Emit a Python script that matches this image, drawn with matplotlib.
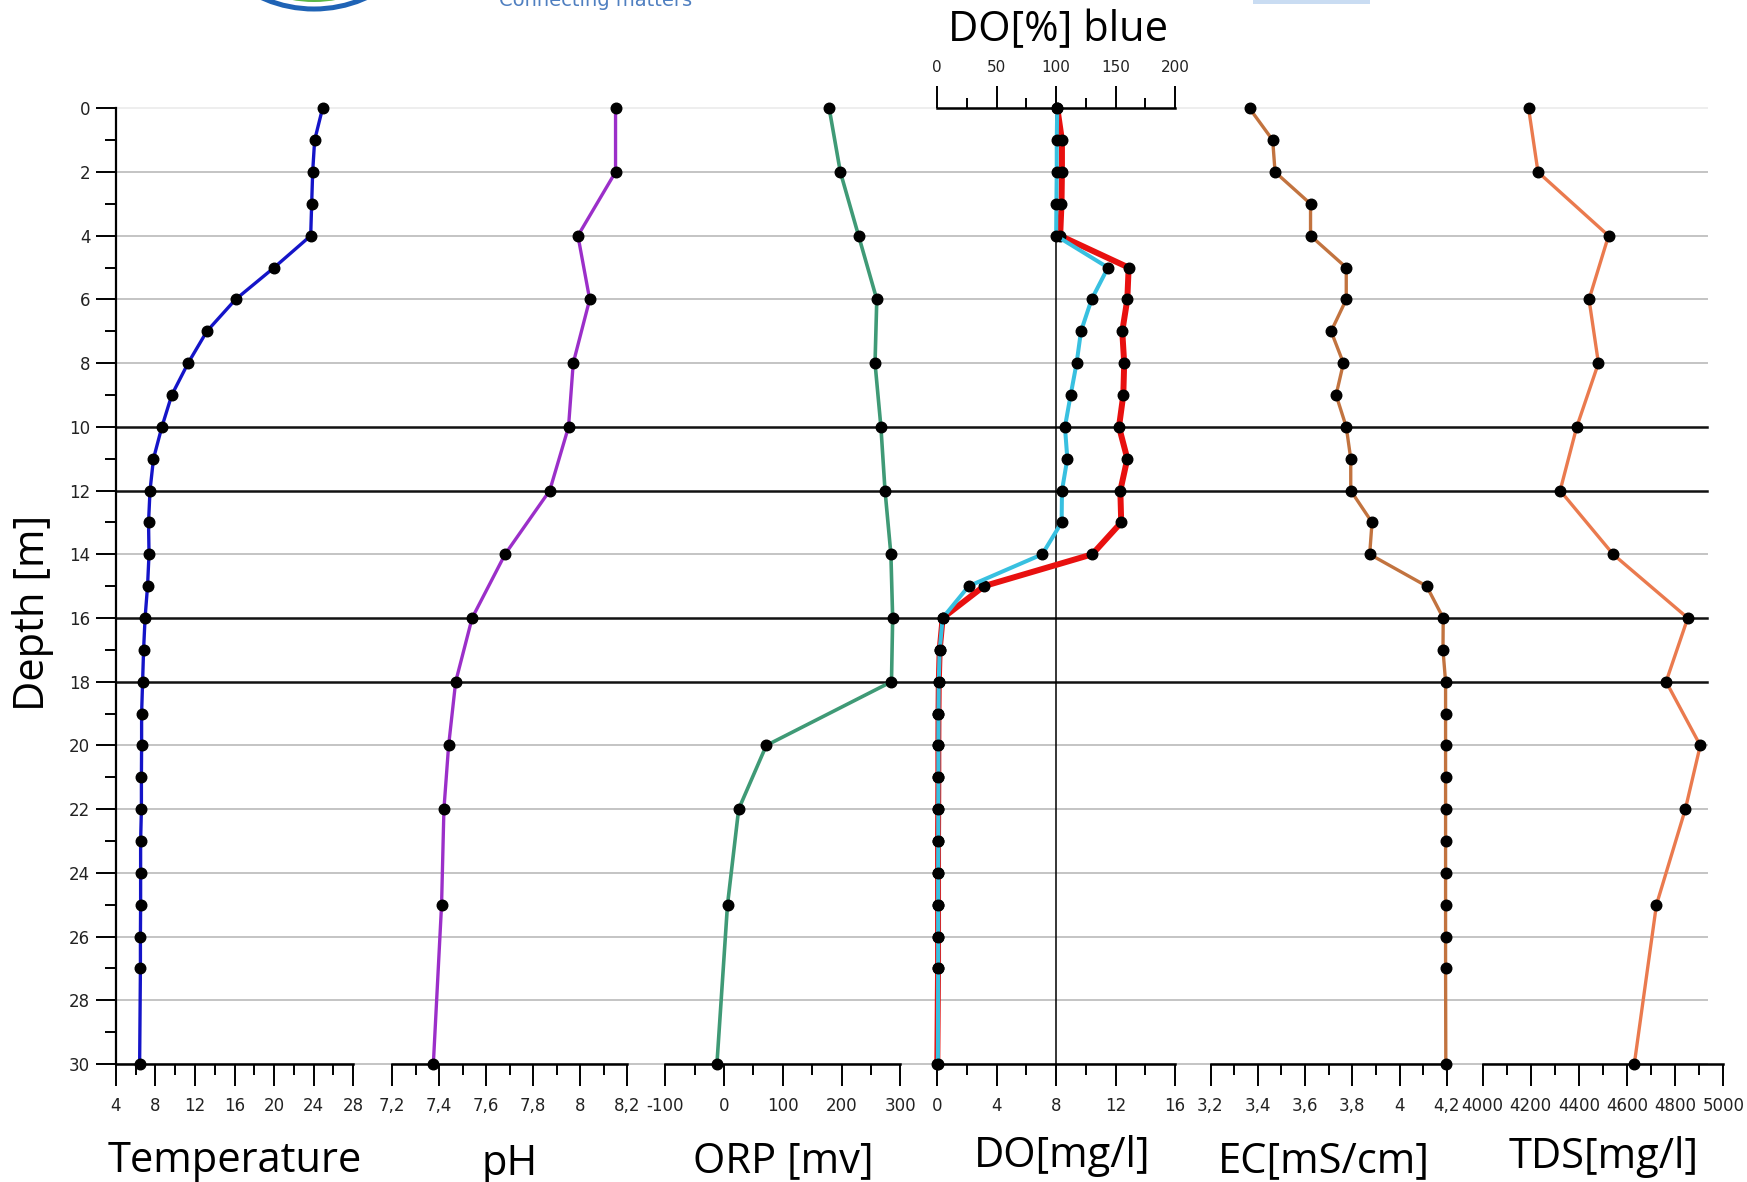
"""Lake profile: temperature, pH, ORP, DO, EC and TDS against depth."""

import matplotlib
matplotlib.use('Agg')
import matplotlib.pyplot as plt
from matplotlib.ticker import MultipleLocator, FuncFormatter
from matplotlib.patches import Ellipse, Rectangle


# Data

depth_full = list(range(28)) + [30]
depth_sparse = [0, 2, 4, 6, 8, 10, 12, 14, 16, 18, 20, 22, 25, 30]

temperature = [24.9, 24.1, 23.9, 23.8, 23.7, 20.0, 16.1, 13.2, 11.3, 9.65,
               8.65, 7.8, 7.45, 7.3, 7.35, 7.2, 6.95, 6.8, 6.7, 6.6,
               6.6, 6.58, 6.58, 6.5, 6.5, 6.5, 6.48, 6.48, 6.4]
ph = [8.15, 8.15, 7.99, 8.04, 7.97, 7.95, 7.87, 7.68, 7.54, 7.47, 7.44, 7.42, 7.41, 7.375]
orp = [179, 198, 229, 260, 257, 267, 274, 284, 287, 285, 72, 25, 6, -12]
do_mg = [8.08, 8.39, 8.39, 8.36, 8.27, 12.88, 12.79, 12.45, 12.58, 12.52,
         12.23, 12.79, 12.32, 12.38, 10.43, 3.14, 0.36, 0.16, 0.1, 0.08,
         0.07, 0.07, 0.06, 0.05, 0.05, 0.05, 0.05, 0.05, 0.0]
do_pct = [100.9, 100.5, 100.5, 100.2, 100.0, 143.6, 129.8, 120.9, 117.2, 112.2,
          107.4, 109.4, 104.9, 104.6, 88.3, 26.4, 4.5, 2.0, 1.2, 1.0,
          0.9, 0.9, 0.8, 0.8, 0.7, 0.7, 0.7, 0.7, 0.5]
ec = [3.365, 3.463, 3.473, 3.623, 3.623, 3.774, 3.774, 3.710, 3.762, 3.731,
      3.774, 3.793, 3.793, 3.883, 3.873, 4.114, 4.184, 4.183, 4.194, 4.194,
      4.194, 4.194, 4.194, 4.194, 4.194, 4.194, 4.194, 4.194, 4.195]
tds = [4191, 4230, 4523, 4442, 4481, 4391, 4322, 4542, 4852, 4762, 4904, 4842, 4722, 4630]

depth_ticks = list(range(0, 31, 2))
black_lines = [10, 12, 16, 18]

# Figure set-up (positions in pixels of the 1747x1182 picture)

W, H = 1747, 1182
Y0, Y1 = 108.3, 1064.0
TICK_FONT = ['Liberation Sans Narrow', 'DejaVu Sans']
LABEL_FONT = ['Open Sans', 'DejaVu Sans']

fig = plt.figure(figsize=(W / 100, H / 100), dpi=100)


def rect(x0, x1):
    return [x0 / W, 1 - Y1 / H, (x1 - x0) / W, (Y1 - Y0) / H]


def comma(v, pos=None):
    return '{0:g}'.format(round(v, 3)).replace('.', ',')


def style_ticks(axis):
    for lab in axis.get_ticklabels():
        lab.set_fontfamily(TICK_FONT)


# Background: depth axis and grid lines

ax = fig.add_axes(rect(116, 1707))
ax.set_xlim(0, 1)
ax.set_ylim(30, 0)
for s in ['top', 'right', 'bottom']:
    ax.spines[s].set_visible(False)
ax.spines['left'].set_linewidth(1.6)
ax.set_xticks([])
ax.yaxis.set_major_locator(MultipleLocator(2))
ax.yaxis.set_minor_locator(MultipleLocator(1))
ax.tick_params(axis='y', which='major', length=14.5, width=1.4, pad=4,
               labelsize=12, labelcolor='#222222')
ax.tick_params(axis='y', which='minor', length=8, width=1.4)
style_ticks(ax.yaxis)
for d in depth_ticks:
    if d in black_lines:
        color, lw = '#111111', 1.8
    elif d == 0:
        color, lw = '#eeeeee', 1.4
    else:
        color, lw = '#c4c4c4', 1.4
    ax.axhline(d, color=color, lw=lw, zorder=1, clip_on=False)


def profile_axes(x0, x1, lim, major, minor):
    a = fig.add_axes(rect(x0, x1))
    a.patch.set_visible(False)
    a.set_xlim(*lim)
    a.set_ylim(30, 0)
    for s in ['top', 'right', 'left']:
        a.spines[s].set_visible(False)
    a.spines['bottom'].set_linewidth(1.8)
    a.set_yticks([])
    a.xaxis.set_major_locator(MultipleLocator(major))
    a.xaxis.set_minor_locator(MultipleLocator(minor))
    a.xaxis.set_major_formatter(FuncFormatter(comma))
    a.tick_params(axis='x', which='major', length=16, width=1.4, pad=8,
                  labelsize=12, labelcolor='#222222')
    a.tick_params(axis='x', which='minor', length=8, width=1.4)
    style_ticks(a.xaxis)
    return a


def profile(a, x, y, color, lw):
    a.plot(x, y, color=color, lw=lw, marker='o', ms=7.6, mfc='black', mec='black',
           clip_on=False, zorder=3)


ax_t = profile_axes(115.9, 353.2, (4, 28), 4, 2)
profile(ax_t, temperature, depth_full, '#1414c8', 2.4)

ax_ph = profile_axes(392.2, 627.3, (7.2, 8.2), 0.2, 0.1)
profile(ax_ph, ph, depth_sparse, '#9b2fc9', 2.4)

ax_orp = profile_axes(665.2, 900.3, (-100, 300), 100, 50)
profile(ax_orp, orp, depth_sparse, '#3f9a76', 2.6)

ax_do = profile_axes(937.3, 1175.0, (0, 16), 4, 2)
ax_do.axvline(8, color='black', lw=1.1, zorder=1)
profile(ax_do, do_mg, depth_full, '#e8100f', 4.3)

ax_pct = ax_do.twiny()
ax_pct.patch.set_visible(False)
ax_pct.set_xlim(0, 200)
for s in ['bottom', 'right', 'left']:
    ax_pct.spines[s].set_visible(False)
ax_pct.spines['top'].set_linewidth(1.8)
ax_pct.xaxis.set_major_locator(MultipleLocator(50))
ax_pct.xaxis.set_minor_locator(MultipleLocator(25))
ax_pct.tick_params(axis='x', which='major', length=16, width=1.4, pad=8,
                   labelsize=11, labelcolor='#222222')
ax_pct.tick_params(axis='x', which='minor', length=7.5, width=1.4)
style_ticks(ax_pct.xaxis)
profile(ax_pct, do_pct, depth_full, '#38c0e0', 2.9)

ax_ec = profile_axes(1210.5, 1447.0, (3.2, 4.2), 0.2, 0.1)
profile(ax_ec, ec, depth_full, '#c2733f', 2.4)

ax_tds = profile_axes(1482.6, 1723.4, (4000, 5000), 200, 100)
profile(ax_tds, tds, depth_sparse, '#ea7a4e', 2.4)

# Axis titles

labels = [('Temperature', 235, 1172), ('pH', 510, 1175), ('ORP [mv]', 783, 1172),
          ('DO[mg/l]', 1062, 1167), ('EC[mS/cm]', 1324, 1172), ('TDS[mg/l]', 1604, 1168)]
for text, x, y in labels:
    fig.text(x / W, 1 - y / H, text, ha='center', va='baseline',
             fontsize=30, family=LABEL_FONT)
fig.text(1058 / W, 1 - 41 / H, 'DO[%] blue', ha='center', va='baseline',
         fontsize=30, family=LABEL_FONT)
fig.text(33 / W, 1 - 613 / H, 'Depth [m]', ha='center', va='center',
         rotation=90, fontsize=30, family=LABEL_FONT)

# Cut-off header remains at the top edge

fig.add_artist(Ellipse((314 / W, 1 + 118 / H), 2 * 127 / W, 2 * 127 / H,
                       transform=fig.transFigure, fc='none', ec='#1f63b5', lw=3.6))
fig.add_artist(Ellipse((314 / W, 1 + 118 / H), 2 * 120 / W, 2 * 120 / H,
                       transform=fig.transFigure, fc='#5cb848', ec='none'))
fig.add_artist(Rectangle((1253 / W, 1 - 3.5 / H), 117 / W, 3.5 / H,
                         transform=fig.transFigure, fc='#c9dcf2', ec='none'))
fig.text(596 / W, 1 - 6 / H, 'Connecting matters', ha='center', va='baseline',
         fontsize=14, color='#4f7fc0', family=['DejaVu Sans'])

fig.savefig('out.png', dpi=100)
